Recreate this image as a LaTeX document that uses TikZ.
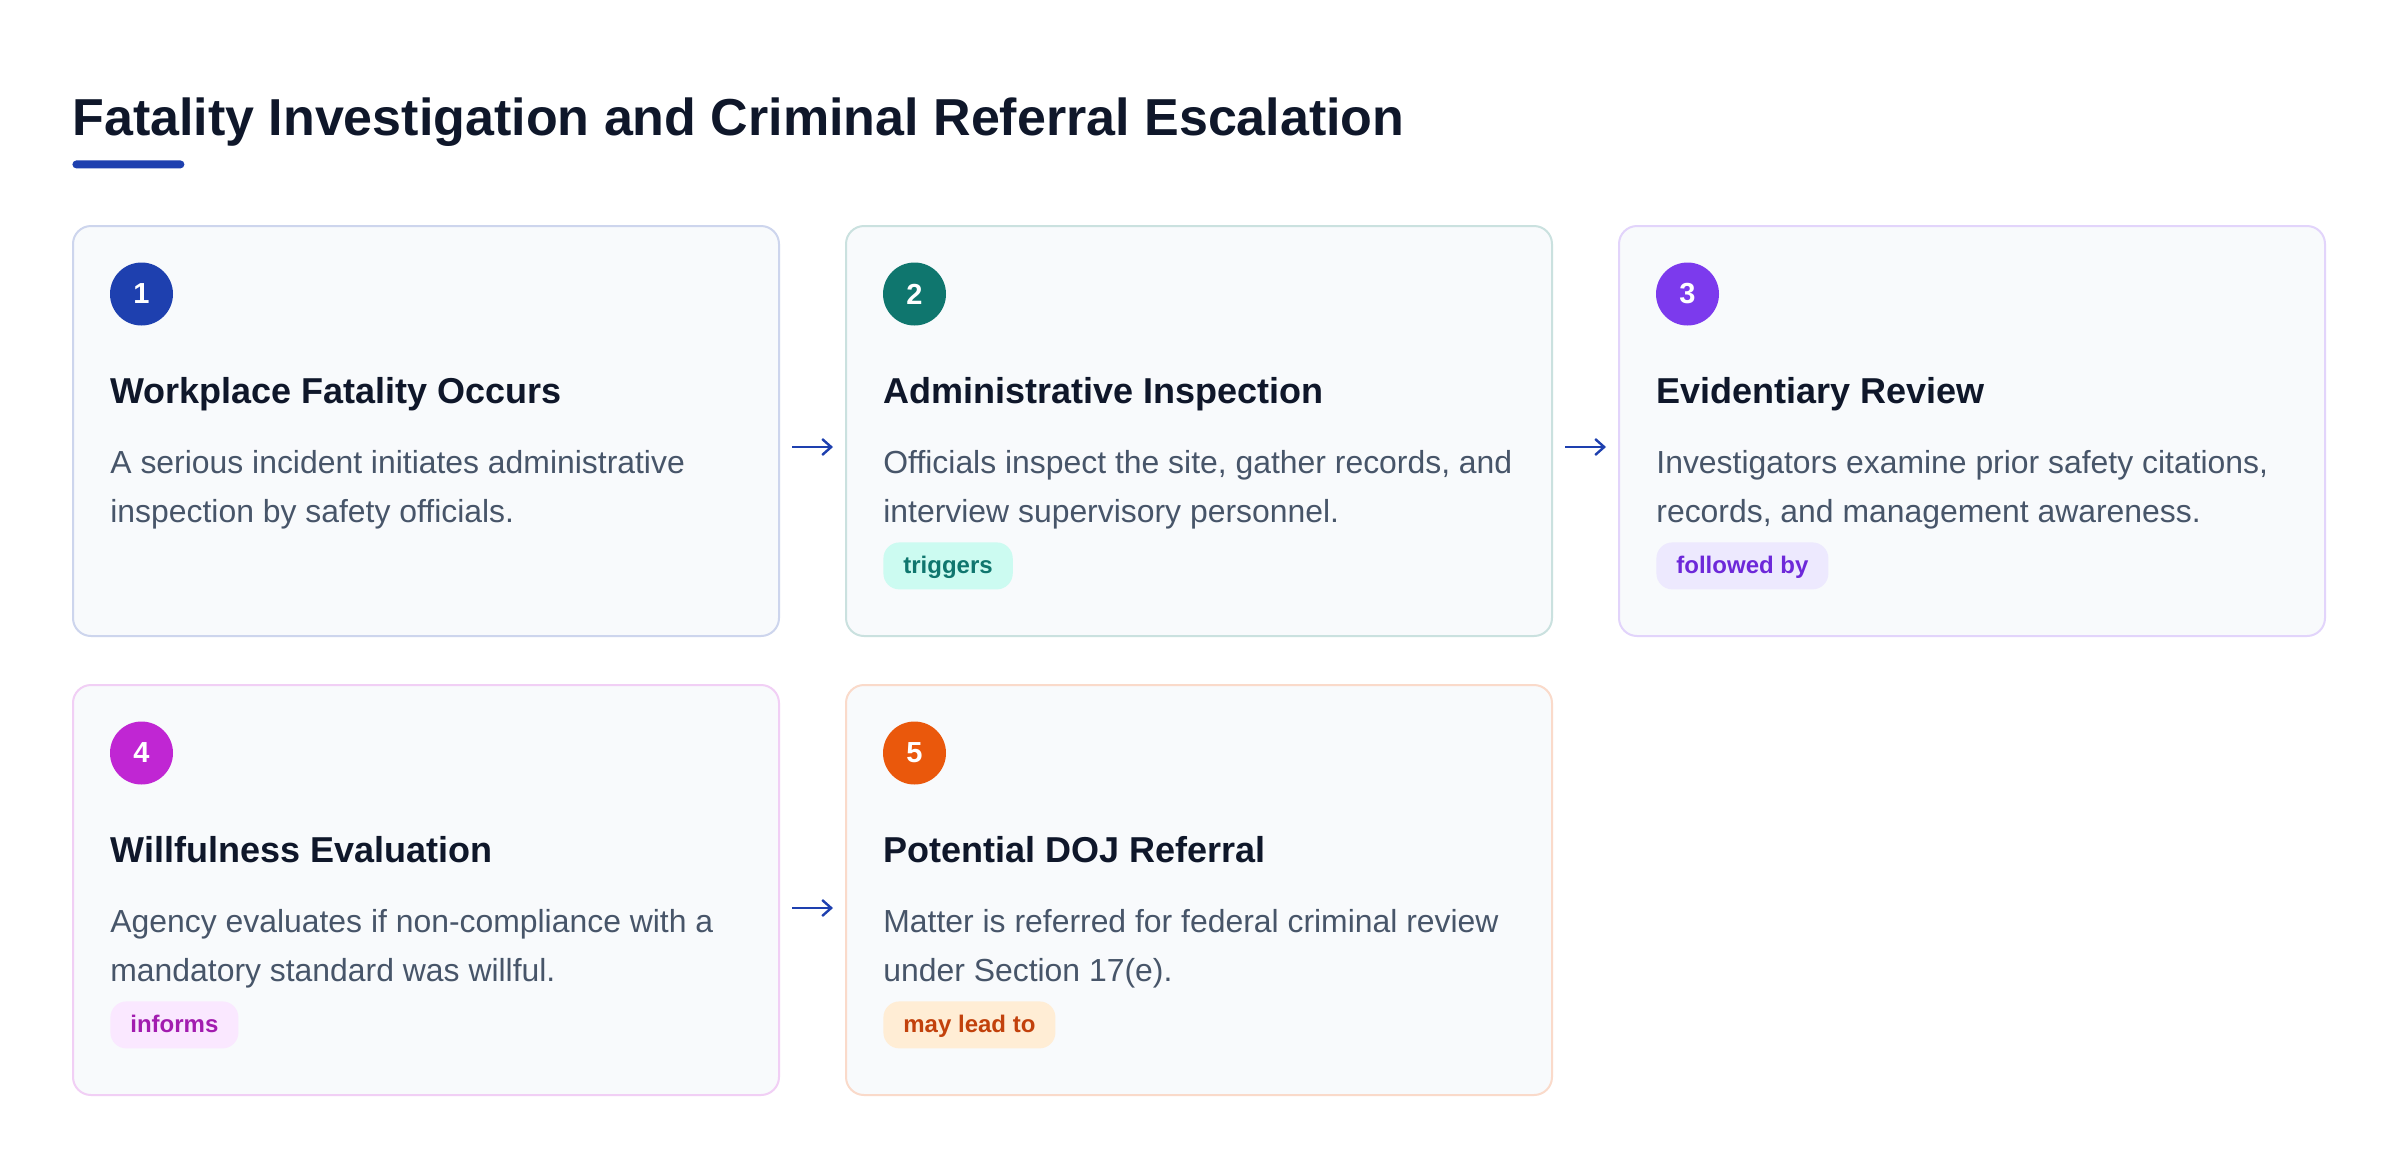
\documentclass[tikz,border=0pt]{standalone}
\usepackage{fontspec}
\setmainfont{Liberation Sans}
\usetikzlibrary{arrows.meta}
\definecolor{ink}{HTML}{0F172A}
\definecolor{bodyc}{HTML}{475569}
\definecolor{cardbg}{HTML}{F8FAFC}
\definecolor{k1}{HTML}{1E40AF}
\definecolor{k2}{HTML}{0F766E}
\definecolor{k3}{HTML}{7C3AED}
\definecolor{k4}{HTML}{C026D3}
\definecolor{k5}{HTML}{EA580C}
\definecolor{bg2}{HTML}{CCFBF1}
\definecolor{tx2}{HTML}{0F766E}
\definecolor{bg3}{HTML}{EDE9FE}
\definecolor{tx3}{HTML}{6D28D9}
\definecolor{bg4}{HTML}{FAE8FF}
\definecolor{tx4}{HTML}{A21CAF}
\definecolor{bg5}{HTML}{FFEDD5}
\definecolor{tx5}{HTML}{C2410C}
\tikzset{
  cardbox/.style={draw=#1!22!white, line width=1pt, fill=cardbg, rounded corners=9pt,
    minimum width=353pt, minimum height=205pt, anchor=north west, inner sep=0pt},
  numdot/.style={circle, fill=#1, minimum size=31.5pt, inner sep=0pt, text=white,
    font=\fontsize{14.5}{17}\selectfont\bfseries},
  headtxt/.style={anchor=base west, inner sep=0pt, text=ink,
    font=\fontsize{18}{22}\selectfont\bfseries},
  bodytxt/.style={anchor=base west, inner sep=0pt, text=bodyc,
    font=\fontsize{15.95}{19}\selectfont},
  badge/.style 2 args={anchor=north west, fill=#1, text=#2, rounded corners=8pt,
    font=\fontsize{12}{14}\selectfont\bfseries, inner xsep=10pt, inner ysep=6.25pt,
    text height=9.25pt, text depth=1.75pt},
  arr/.style={draw=k1, line width=1.1pt, -{Straight Barb[length=4.5pt,width=8pt,line width=1.2pt]}},
  titletxt/.style={anchor=base west, inner sep=0pt, text=ink,
    font=\fontsize{26}{30}\selectfont\bfseries},
}
\newcommand\mkcard[8]{%
  \node[cardbox=#4] (#1) at (#2,#3) {};
  \node[numdot=#4] (#1n) at ({#2+69.5},{#3+69}) {#5};
  \node[headtxt] (#1h) at ({#2+38},{#3+178}) {#6};
  \node[bodytxt] (#1a) at ({#2+38},{#3+248}) {#7};
  \node[bodytxt] (#1b) at ({#2+38},{#3+297}) {#8};
}
\begin{document}
\begin{tikzpicture}[x=0.5pt,y=-0.5pt]
\useasboundingbox[fill=white] (0,0) rectangle (2400,1168);
\node[titletxt] (title) at (72,135) {Fatality Investigation and Criminal Referral Escalation};
\node[fill=k1, rounded corners=2pt, minimum width=56pt, minimum height=4pt, anchor=north west, inner sep=0pt] (uline) at (72,160) {};

\mkcard{c1}{72}{225}{k1}{1}{Workplace Fatality Occurs}{A serious incident initiates administrative}{inspection by safety officials.}
\mkcard{c2}{845}{225}{k2}{2}{Administrative Inspection}{Officials inspect the site, gather records, and}{interview supervisory personnel.}
\mkcard{c3}{1618}{225}{k3}{3}{Evidentiary Review}{Investigators examine prior safety citations,}{records, and management awareness.}
\mkcard{c4}{72}{684}{k4}{4}{Willfulness Evaluation}{Agency evaluates if non-compliance with a}{mandatory standard was willful.}
\mkcard{c5}{845}{684}{k5}{5}{Potential DOJ Referral}{Matter is referred for federal criminal review}{under Section 17(e).}

\node[badge={bg2}{tx2}] (t2) at (883,542) {triggers};
\node[badge={bg3}{tx3}] (t3) at (1656,542) {followed by};
\node[badge={bg4}{tx4}] (t4) at (110,1001) {informs};
\node[badge={bg5}{tx5}] (t5) at (883,1001) {may lead to};

\draw[arr] ([xshift=6pt,yshift=-8pt]c1.east) -- ([xshift=-6pt,yshift=-8pt]c2.west);
\draw[arr] ([xshift=6pt,yshift=-8pt]c2.east) -- ([xshift=-6pt,yshift=-8pt]c3.west);
\draw[arr] ([xshift=6pt,yshift=-9pt]c4.east) -- ([xshift=-6pt,yshift=-9pt]c5.west);
\end{tikzpicture}
\end{document}
